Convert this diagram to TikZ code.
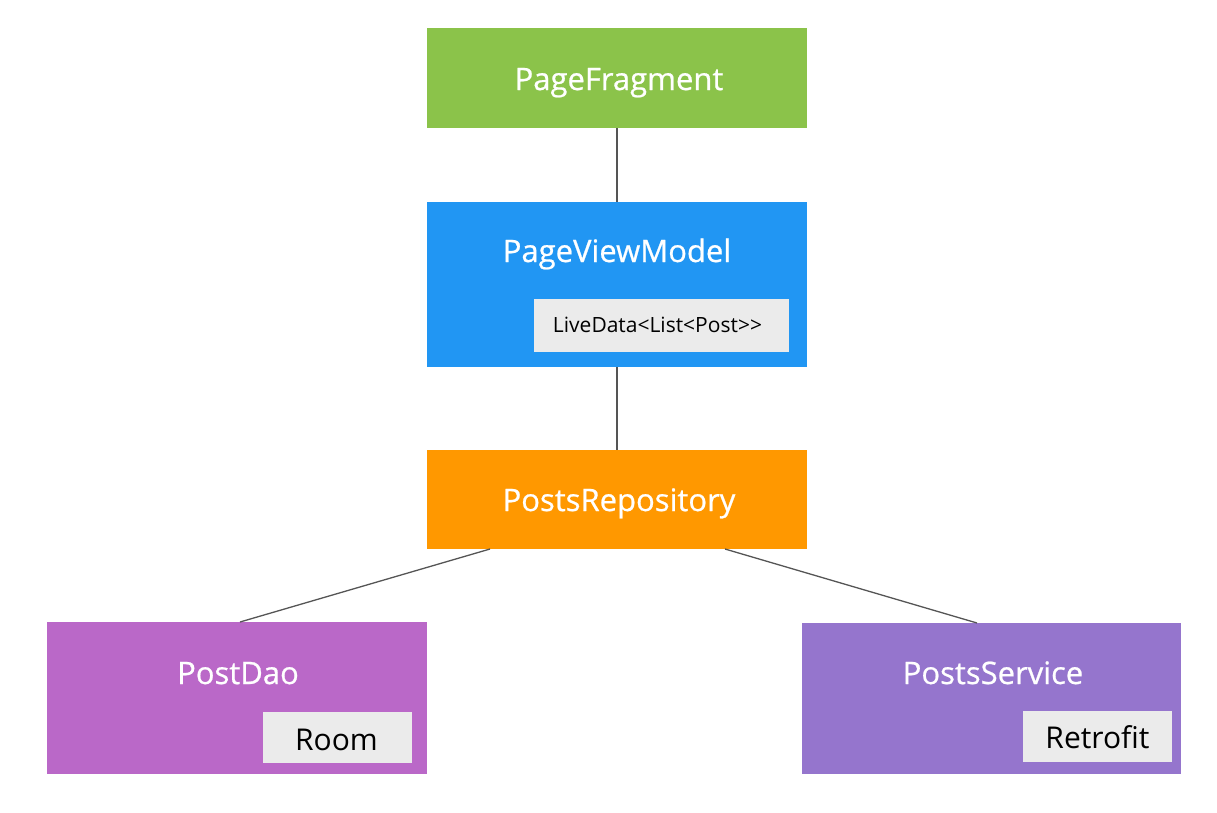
\documentclass[tikz,border=0pt]{standalone}
\usepackage{fontspec}
\setmainfont{Open Sans}
\newfontfamily\titlefont{Open Sans}[FakeBold=0.7]
\definecolor{cgreen}{HTML}{8BC34A}
\definecolor{cblue}{HTML}{2196F3}
\definecolor{corange}{HTML}{FF9800}
\definecolor{cpurple}{HTML}{BA68C8}
\definecolor{cdeep}{HTML}{9575CD}
\definecolor{cgray}{HTML}{EBEBEB}
\definecolor{cline}{HTML}{555555}
\tikzset{
  box/.style={rectangle, inner sep=0pt, outer sep=0pt, draw=none},
  tag/.style={rectangle, inner sep=0pt, outer sep=0pt, fill=cgray},
  title/.style={anchor=base, inner sep=0pt, text=white, font=\titlefont\fontsize{31}{36}\selectfont},
  small/.style={anchor=base, inner sep=0pt, text=black, font=\fontsize{21}{25}\selectfont},
  tagtext/.style={anchor=base, inner sep=0pt, text=black, font=\fontsize{30}{36}\selectfont},
  conn/.style={draw=cline, line width=1.3pt}
}
\begin{document}
\begin{tikzpicture}[x=1pt,y=-1pt]
\useasboundingbox (0,0) rectangle (1217,812);
% boxes
\node[box, fill=cgreen, minimum width=380pt, minimum height=100pt] (pf) at (617,78) {};
\node[box, fill=cblue, minimum width=380pt, minimum height=165pt] (pvm) at (617,284.5) {};
\node[tag, minimum width=255pt, minimum height=53pt] (ld) at (661.5,325.5) {};
\node[box, fill=corange, minimum width=380pt, minimum height=99pt] (pr) at (617,499.5) {};
\node[box, fill=cpurple, minimum width=380pt, minimum height=152pt] (dao) at (237,698) {};
\node[tag, minimum width=149pt, minimum height=51pt] (room) at (337.5,737.5) {};
\node[box, fill=cdeep, minimum width=379pt, minimum height=151pt] (svc) at (991.5,698.5) {};
\node[tag, minimum width=149pt, minimum height=51pt] (retro) at (1097.5,736.5) {};
% texts
\node[title] (tpf) at (619,90) {PageFragment};
\node[title] (tpvm) at (617,262) {PageViewModel};
\node[small] (tld) at (657.5,332) {LiveData<List<Post>\kern0pt>};
\node[title] (tpr) at (619,511) {PostsRepository};
\node[title] (tdao) at (238,684) {PostDao};
\node[title] (tsvc) at (993,684) {PostsService};
\node[tagtext] (troom) at (336.5,750) {Room};
\node[tagtext] (tretro) at (1097.5,748) {Retrofit};
% connectors
\draw[conn] (pf.south) -- (pvm.north);
\draw[conn] (pvm.south) -- (pr.north);
\coordinate (prl) at ([xshift=63pt]pr.south west);
\coordinate (prr) at ([xshift=-82pt]pr.south east);
\coordinate (daot) at ([xshift=193pt]dao.north west);
\coordinate (svct) at ([xshift=175pt]svc.north west);
\draw[conn] (prl) -- (daot);
\draw[conn] (prr) -- (svct);
\end{tikzpicture}
\end{document}
